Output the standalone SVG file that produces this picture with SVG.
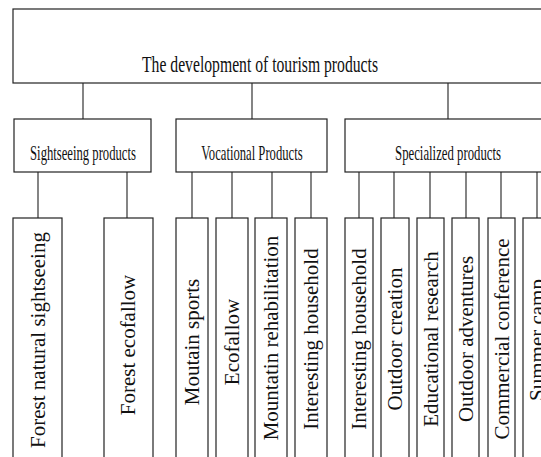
<svg xmlns="http://www.w3.org/2000/svg" width="541" height="457" viewBox="0 0 541 457">
<style>
rect{fill:#fff;stroke:#222;stroke-width:1.2}
.c line{stroke:#333;stroke-width:1.2}
text{font-family:"Liberation Serif","Times New Roman",serif;fill:#111}
.t{font-size:23px;text-anchor:middle}
.h{font-size:22px;text-anchor:middle}
.v{font-size:21px;text-anchor:middle}
</style>
<rect x="0" y="0" width="541" height="457" style="fill:#fff;stroke:none"/>
<g class="c" id="connectors">
<line x1="83" y1="83" x2="83" y2="119"/>
<line x1="252" y1="83" x2="252" y2="119"/>
<line x1="448" y1="83" x2="448" y2="119"/>
<line x1="38" y1="172" x2="38" y2="218"/>
<line x1="127" y1="172" x2="127" y2="218"/>
<line x1="192" y1="172" x2="192" y2="218"/>
<line x1="232" y1="172" x2="232" y2="218"/>
<line x1="272" y1="172" x2="272" y2="218"/>
<line x1="311" y1="172" x2="311" y2="218"/>
<line x1="359" y1="172" x2="359" y2="218"/>
<line x1="394" y1="172" x2="394" y2="218"/>
<line x1="430" y1="172" x2="430" y2="218"/>
<line x1="466" y1="172" x2="466" y2="218"/>
<line x1="501" y1="172" x2="501" y2="218"/>
<line x1="537" y1="172" x2="537" y2="218"/>
</g>
<g id="root"><rect x="13" y="9" width="540" height="74"/><text class="t" transform="translate(260,72) scale(0.682,1)">The development of tourism products</text></g>
<g id="sightseeing"><rect x="14" y="119" width="137" height="53"/><text class="h" transform="translate(83,160) scale(0.576,1)">Sightseeing products</text></g>
<g id="vocational"><rect x="176" y="119" width="151" height="53"/><text class="h" transform="translate(252,160) scale(0.575,1)">Vocational Products</text></g>
<g id="specialized"><rect x="345" y="119" width="210" height="53"/><text class="h" transform="translate(448,160) scale(0.58,1)">Specialized products</text></g>
<g id="n1"><rect x="13" y="218" width="49" height="250"/><text class="v" transform="translate(45,340) rotate(-90)">Forest natural sightseeing</text></g>
<g id="n2"><rect x="104" y="218" width="49" height="250"/><text class="v" transform="translate(135,345) rotate(-90)">Forest ecofallow</text></g>
<g id="n3"><rect x="176" y="218" width="32" height="250"/><text class="v" transform="translate(199,342) rotate(-90)">Moutain sports</text></g>
<g id="n4"><rect x="216" y="218" width="32" height="250"/><text class="v" transform="translate(239,342) rotate(-90)">Ecofallow</text></g>
<g id="n5"><rect x="255" y="218" width="32" height="250"/><text class="v" transform="translate(278,338) rotate(-90)">Mountatin rehabilitation</text></g>
<g id="n6"><rect x="295" y="218" width="32" height="250"/><text class="v" transform="translate(318,339) rotate(-90)">Interesting household</text></g>
<g id="n7"><rect x="345" y="218" width="28" height="250"/><text class="v" transform="translate(366,339) rotate(-90)">Interesting household</text></g>
<g id="n8"><rect x="381" y="218" width="28" height="250"/><text class="v" transform="translate(402,339) rotate(-90)">Outdoor creation</text></g>
<g id="n9"><rect x="417" y="218" width="27" height="250"/><text class="v" transform="translate(438,339) rotate(-90)">Educational research</text></g>
<g id="n10"><rect x="452" y="218" width="27" height="250"/><text class="v" transform="translate(473,339) rotate(-90)">Outdoor adventures</text></g>
<g id="n11"><rect x="488" y="218" width="27" height="250"/><text class="v" transform="translate(509,339) rotate(-90)">Commercial conference</text></g>
<g id="n12"><rect x="523" y="218" width="28" height="250"/><text class="v" transform="translate(544,340) rotate(-90)">Summer camp</text></g>
</svg>
